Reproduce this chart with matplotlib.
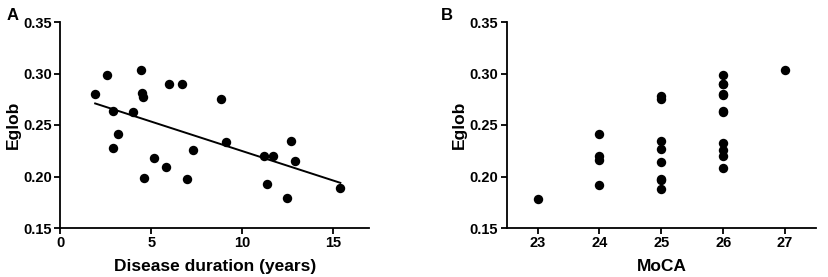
import numpy as np
import matplotlib
matplotlib.use("Agg")
from matplotlib import pyplot as plt

plt.rcParams['font.family'] = ['Liberation Sans', 'DejaVu Sans']
plt.rcParams['font.weight'] = 'bold'

# Panel A: disease duration vs Eglob
duration = [1.91, 2.56, 2.89, 2.89, 3.16, 3.97, 4.43, 4.49, 4.52, 4.61,
            5.13, 5.83, 5.97, 6.71, 6.97, 7.30, 8.86, 9.14, 11.19, 11.71,
            11.40, 12.48, 12.70, 12.92, 15.42]
eglob_a = [0.2797, 0.2985, 0.2638, 0.2272, 0.2411, 0.2625, 0.3037, 0.2807, 0.2774, 0.1983,
           0.2175, 0.2094, 0.2900, 0.2900, 0.1977, 0.2259, 0.2752, 0.2337, 0.2201, 0.2201,
           0.1932, 0.1792, 0.2347, 0.2149, 0.1890]

# Panel B: MoCA vs Eglob
moca = [23,
        24, 24, 24, 24,
        25, 25, 25, 25, 25, 25, 25, 25,
        26, 26, 26, 26, 26, 26, 26, 26, 26, 26, 26,
        27]
eglob_b = [0.1785,
           0.2408, 0.2198, 0.2165, 0.1922,
           0.2780, 0.2748, 0.2343, 0.2268, 0.2142, 0.1980, 0.1970, 0.1883,
           0.2985, 0.2900, 0.2895, 0.2800, 0.2795, 0.2632, 0.2622, 0.2330, 0.2262, 0.2198, 0.2084,
           0.3035]

W, H = 829, 277
fig = plt.figure(figsize=(W / 100, H / 100), dpi=100)

def axes_px(left, right, top, bottom):
    return fig.add_axes([left / W, 1 - bottom / H, (right - left) / W, (bottom - top) / H])

def style(ax):
    for s in ['top', 'right']:
        ax.spines[s].set_visible(False)
    for s in ['left', 'bottom']:
        ax.spines[s].set_linewidth(1.3)
    ax.tick_params(direction='out', length=4, width=1.3, labelsize=10.5, pad=2)
    ax.set_ylim(0.15, 0.35)
    ax.set_yticks([0.15, 0.20, 0.25, 0.30, 0.35])
    ax.set_yticklabels(['0.15', '0.20', '0.25', '0.30', '0.35'])
    ax.set_ylabel('Eglob', fontsize=12.5, fontweight='bold', labelpad=2)

# --- A ---
ax1 = axes_px(60.5, 369, 22, 228)
ax1.scatter(duration, eglob_a, s=46, color='black', zorder=3, linewidths=0)
k, b = np.polyfit(duration, eglob_a, 1)
xs = np.array([min(duration), max(duration)])
ax1.plot(xs, k * xs + b, color='black', lw=1.4)
ax1.set_xlim(0, 17)
ax1.set_xticks([0, 5, 10, 15])
ax1.set_xlabel('Disease duration (years)', fontsize=12.5, fontweight='bold', labelpad=6)
style(ax1)
fig.text(7 / W, 1 - 15 / H, 'A', fontsize=12, fontweight='bold', va='center', ha='left')

# --- B ---
ax2 = axes_px(506.7, 816, 22, 228)
ax2.scatter(moca, eglob_b, s=46, color='black', zorder=3, linewidths=0)
ax2.set_xlim(22.5, 27.5)
ax2.set_xticks([23, 24, 25, 26, 27])
ax2.set_xlabel('MoCA', fontsize=12.5, fontweight='bold', labelpad=6)
style(ax2)
fig.text(441 / W, 1 - 15 / H, 'B', fontsize=12, fontweight='bold', va='center', ha='left')

fig.savefig('out.png', dpi=100)
